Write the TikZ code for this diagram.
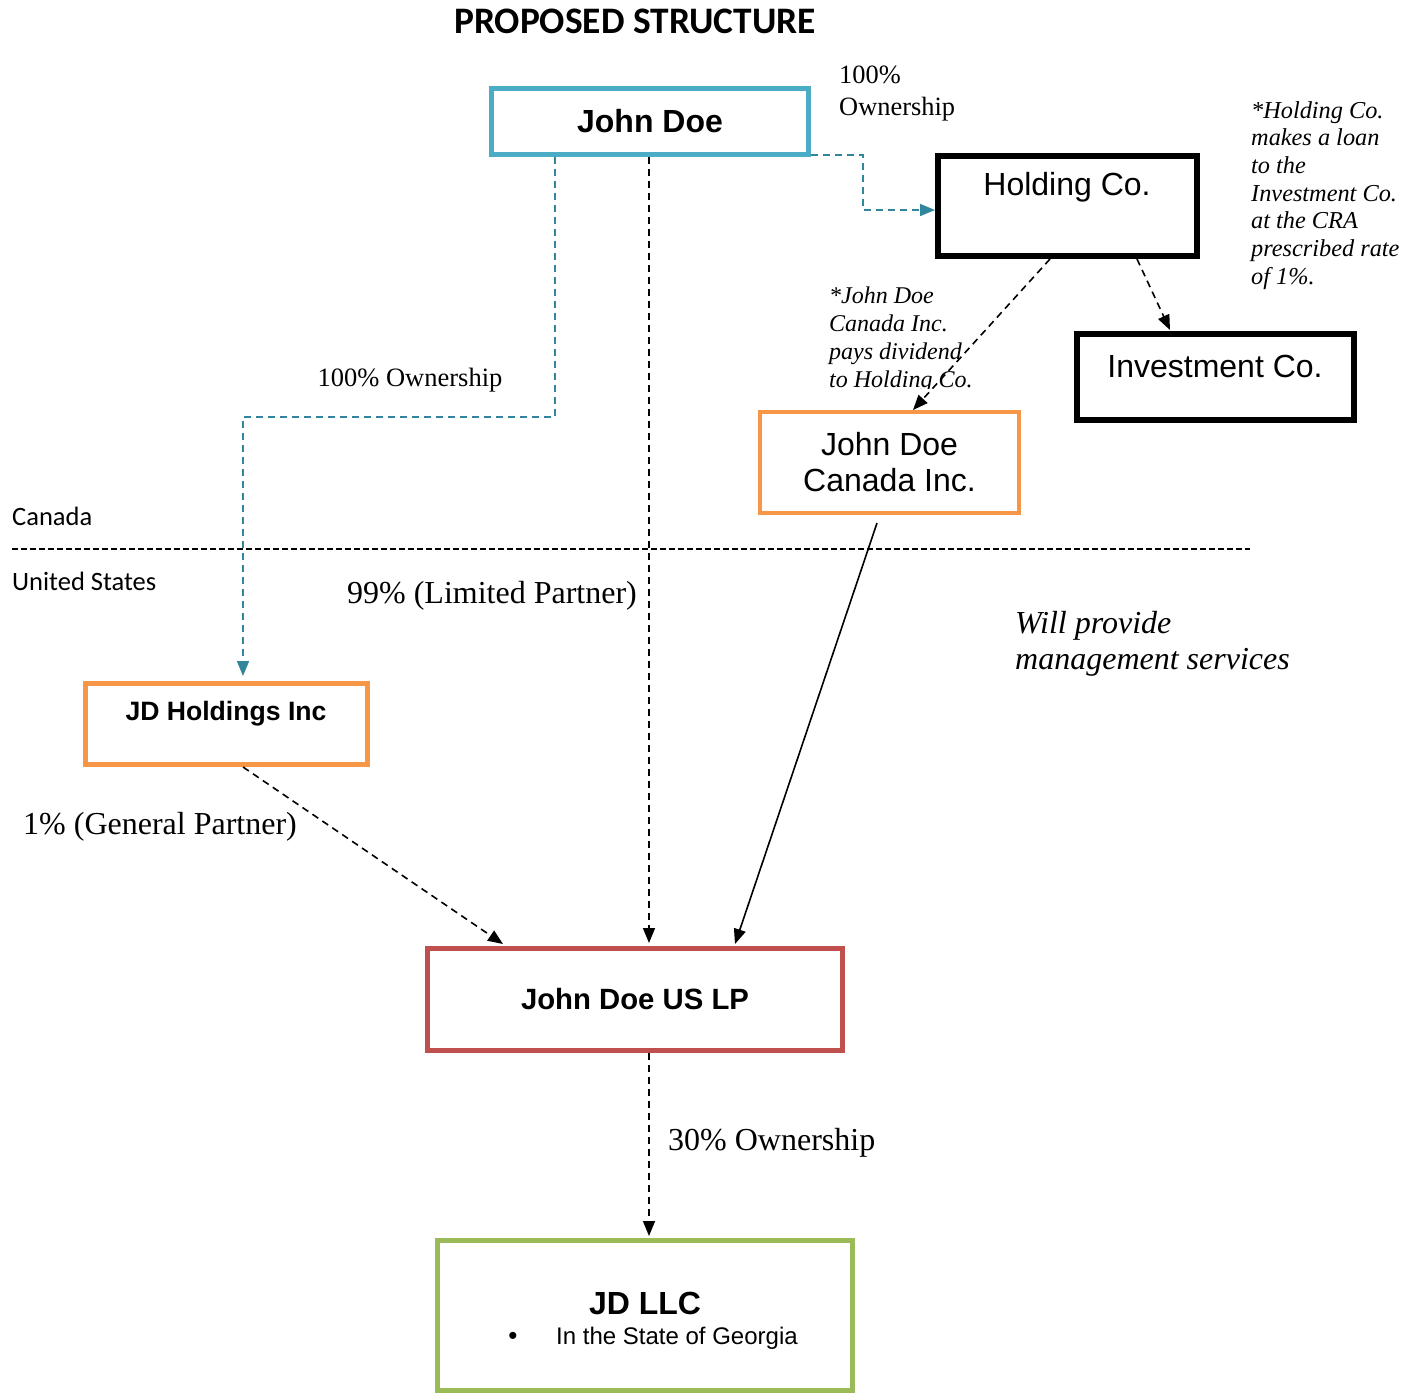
\documentclass[tikz,border=0pt]{standalone}
\usepackage{fontspec}
\setmainfont{Liberation Serif}
\newfontfamily\arialfont{Liberation Sans}
\newfontfamily\calibrifont{Carlito}
\usetikzlibrary{arrows.meta}
\definecolor{teal1}{RGB}{75,172,198}
\definecolor{teal2}{RGB}{49,133,156}
\definecolor{orange1}{RGB}{247,150,70}
\definecolor{red1}{RGB}{192,80,77}
\definecolor{green1}{RGB}{155,187,89}
\tikzset{
    box/.style={draw, inner sep=0pt, fill=white},
    own/.style={line width=1.6pt, dash pattern=on 7pt off 5pt},
    tip/.style={-{Triangle[length=15pt,width=12pt]}},
}
\begin{document}
\begin{tikzpicture}[x=1pt, y=-1pt]
    \useasboundingbox (0,0) rectangle (1415,1393);
    % title and border line
    \node[font=\calibrifont\bfseries\fontsize{37.4}{42}\selectfont] (title) at (635,21) {PROPOSED STRUCTURE};
    \draw[line width=1.4pt, dash pattern=on 6pt off 3pt] (12,549) -- (1250,549);
    \node[anchor=west, inner sep=0pt, font=\calibrifont\fontsize{26.5}{30}\selectfont] (ca) at (12,516) {Canada};
    \node[anchor=west, inner sep=0pt, font=\calibrifont\fontsize{26.5}{30}\selectfont] (us) at (12,581) {United States};
    % boxes
    \node[box, draw=teal1, line width=5pt, minimum width=317pt, minimum height=66pt, font=\arialfont\bfseries\fontsize{32}{36}\selectfont] (jd) at (650,121.5) {John Doe};
    \node[box, line width=6pt, minimum width=259pt, minimum height=100pt] (hold) at (1067.5,206) {};
    \node[font=\arialfont\fontsize{32}{36}\selectfont] (holdtxt) at (1067,187) {Holding Co.};
    \node[box, line width=6pt, minimum width=277pt, minimum height=86pt] (inv) at (1215.5,377) {};
    \node[font=\arialfont\fontsize{32}{36}\selectfont] (invtxt) at (1215,366) {Investment Co.};
    \node[box, draw=orange1, line width=4pt, minimum width=259pt, minimum height=101pt, align=center, font=\arialfont\fontsize{32}{36}\selectfont] (jdc) at (889.5,462.5) {John Doe\\Canada Inc.};
    \node[box, draw=orange1, line width=5pt, minimum width=282pt, minimum height=81pt] (jdh) at (226.5,724) {};
    \node[font=\arialfont\bfseries\fontsize{26.6}{30}\selectfont] (jdhtxt) at (226,714) {JD Holdings Inc};
    \node[box, draw=red1, line width=5pt, minimum width=415pt, minimum height=102pt, font=\arialfont\bfseries\fontsize{29.3}{33}\selectfont] (lp) at (635,999.5) {John Doe US LP};
    \node[box, draw=green1, line width=5pt, minimum width=415pt, minimum height=150pt] (llc) at (645,1315.5) {};
    \node[font=\arialfont\bfseries\fontsize{32}{36}\selectfont] (llctxt) at (645,1303) {JD LLC};
    \node[font=\arialfont\fontsize{26}{28}\selectfont] (llcdot) at (513,1338) {\textbullet};
    \node[anchor=west, inner sep=0pt, font=\arialfont\fontsize{24}{28}\selectfont] (llcsub) at (556,1338) {In the State of Georgia};
    % ownership lines
    \draw[own, teal2, tip] (jd.east |- 0,155) -- (863,155) -- (863,210) -- (hold.west |- 0,210);
    \draw[own, teal2, tip] (555,157) -- (555,417) -- (243,417) -- (243,676);
    \draw[own, tip] (649,157) -- (649 ,943);
    \draw[own, tip] (1050,259) -- (913,410);
    \draw[own, tip] (1137,259) -- (1170,330);
    \draw[line width=1.6pt, tip] (877,523) -- (735,944);
    \draw[own, tip] (243,767) -- (503,944);
    \draw[own, tip] (649,1053) -- (649,1236);
    % labels
    \node[anchor=north west, inner sep=0pt, align=left, font=\fontsize{26.4}{32}\selectfont] (own1) at (839,66) {100\%\\Ownership};
    \node[font=\fontsize{26.5}{30}\selectfont] (own2) at (410,380) {100\% Ownership};
    \node[font=\fontsize{32}{36}\selectfont] (lpown) at (492,596) {99\% (Limited Partner)};
    \node[anchor=west, inner sep=0pt, font=\fontsize{32}{36}\selectfont] (gpown) at (23,827) {1\% (General Partner)};
    \node[anchor=west, inner sep=0pt, font=\fontsize{32}{36}\selectfont] (llcown) at (668,1143) {30\% Ownership};
    \node[anchor=north west, inner sep=0pt, align=left, font=\itshape\fontsize{32}{36}\selectfont] (mgmt) at (1015,611) {Will provide\\management services};
    \node[anchor=north west, inner sep=0pt, align=left, font=\itshape\fontsize{24.3}{27.7}\selectfont] (loan) at (1251,101) {*Holding Co.\\makes a loan\\to the\\Investment Co.\\at the CRA\\prescribed rate\\of 1\%.};
    \begin{scope}
        \clip (820,270) rectangle (1000,388);
        \node[anchor=north west, inner sep=0pt, align=left, font=\itshape\fontsize{24}{28}\selectfont] (div) at (829,287) {*John Doe\\Canada Inc.\\pays dividend\\to Holding Co.};
    \end{scope}
\end{tikzpicture}
\end{document}
